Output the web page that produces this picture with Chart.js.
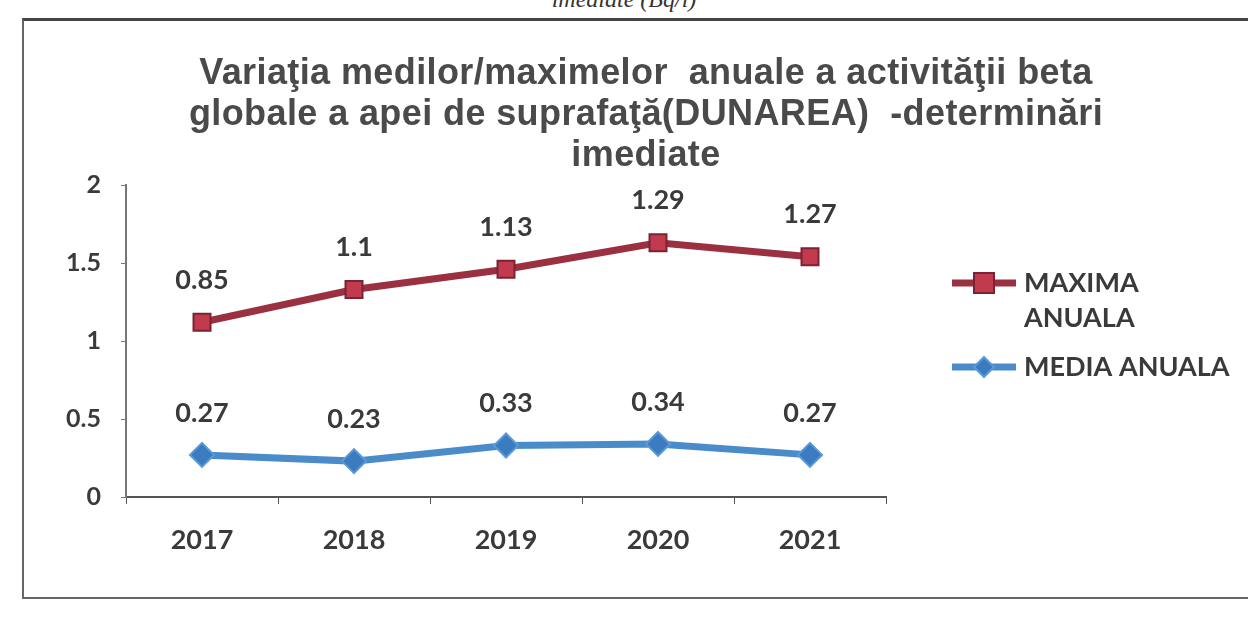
<!DOCTYPE html>
<html>
<head>
<meta charset="utf-8">
<script src="https://cdn.jsdelivr.net/npm/chart.js@4.4.0/dist/chart.umd.min.js"></script>
<style>
  html, body { margin: 0; padding: 0; background: #fff; }
  #wrap { position: relative; width: 1248px; height: 644px; overflow: hidden; }
  #caption {
    position: absolute; left: 0; width: 1248px; top: -14px; text-align: center;
    font: italic 24px "Liberation Serif", serif; color: #333;
  }
  #frame {
    position: absolute; left: 22px; top: 18px; width: 1230px; height: 581px;
    border: 2px solid #666; border-top: 3px solid #444; box-sizing: border-box;
  }
  canvas { position: absolute; left: 0; top: 0; }
</style>
</head>
<body>
<div id="wrap">
  <div id="caption">imediate (Bq/l)</div>
  <div id="frame"></div>
  <canvas id="myChart" width="1248" height="644"></canvas>
</div>
<script>
var years = ["2017", "2018", "2019", "2020", "2021"];
var mediaAnuala = [0.27, 0.23, 0.33, 0.34, 0.27];
var maximaAnuala = [0.85, 1.1, 1.13, 1.29, 1.27];
var yTicks = [0, 0.5, 1, 1.5, 2];

var titleLines = [
  "Variaţia medilor/maximelor  anuale a activităţii beta",
  "globale a apei de suprafaţă(DUNAREA)  -determinări",
  "imediate"
];

var textColor = "#3a3a3a";
var labelFont = "bold 27px Lato, 'Open Sans', sans-serif";

// title centred over the whole frame, not just the plot
var frameTitle = {
  id: "frameTitle",
  afterDraw: function (chart, args, opts) {
    var ctx = chart.ctx;
    ctx.save();
    ctx.font = "bold 36px 'Liberation Sans', Arial, sans-serif";
    ctx.letterSpacing = "0.4px";
    ctx.fillStyle = "#4a4a4a";
    ctx.textAlign = "center";
    ctx.textBaseline = "alphabetic";
    titleLines.forEach(function (line, i) {
      ctx.fillText(line, opts.x, opts.y + i * opts.lineHeight);
    });
    ctx.restore();
  }
};

// values written above each point (raw values, the lines are stacked)
var pointLabels = {
  id: "pointLabels",
  afterDatasetsDraw: function (chart) {
    var ctx = chart.ctx;
    ctx.save();
    ctx.font = labelFont;
    ctx.fillStyle = textColor;
    ctx.textAlign = "center";
    ctx.textBaseline = "middle";
    chart.data.datasets.forEach(function (ds, i) {
      var meta = chart.getDatasetMeta(i);
      meta.data.forEach(function (pt, j) {
        ctx.fillText(String(ds.data[j]), pt.x, pt.y - 42);
      });
    });
    ctx.restore();
  }
};

// legend on the right, with the wrapped label like the original
var sideLegend = {
  id: "sideLegend",
  afterDraw: function (chart, args, opts) {
    var ctx = chart.ctx;
    ctx.save();
    ctx.font = labelFont;
    ctx.textBaseline = "middle";
    var y = opts.y;
    var items = chart.data.datasets.slice().reverse();
    items.forEach(function (ds) {
      ctx.strokeStyle = ds.borderColor;
      ctx.lineWidth = 7;
      ctx.beginPath();
      ctx.moveTo(opts.x, y);
      ctx.lineTo(opts.x + 64, y);
      ctx.stroke();
      var cx = opts.x + 32;
      ctx.fillStyle = ds.pointBackgroundColor;
      ctx.strokeStyle = ds.pointBorderColor;
      ctx.lineWidth = 2;
      ctx.beginPath();
      if (ds.pointStyle === "rect") {
        ctx.rect(cx - 10, y - 10, 20, 20);
      } else {
        ctx.moveTo(cx, y - 10); ctx.lineTo(cx + 10, y);
        ctx.lineTo(cx, y + 10); ctx.lineTo(cx - 10, y);
        ctx.closePath();
      }
      ctx.fill();
      ctx.stroke();
      ctx.fillStyle = textColor;
      ds.legendLines.forEach(function (line, k) {
        ctx.fillText(line, opts.x + 72, y + k * 35);
      });
      y += ds.legendLines.length * 35 + 14;
    });
    ctx.restore();
  }
};

new Chart("myChart", {
  type: "line",
  data: {
    labels: years,
    datasets: [
      {
        label: "MEDIA ANUALA",
        legendLines: ["MEDIA ANUALA"],
        data: mediaAnuala,
        borderColor: "#4a8cc9",
        borderWidth: 7,
        pointStyle: "rectRot",
        pointRadius: 12,
        pointBackgroundColor: "#3b7bc0",
        pointBorderColor: "#5a9ad6",
        pointBorderWidth: 2,
        tension: 0
      },
      {
        label: "MAXIMA ANUALA",
        legendLines: ["MAXIMA", "ANUALA"],
        data: maximaAnuala,
        borderColor: "#9a3040",
        borderWidth: 7,
        pointStyle: "rect",
        pointRadius: 12,
        pointBackgroundColor: "#c23a4d",
        pointBorderColor: "#7a2433",
        pointBorderWidth: 2,
        tension: 0
      }
    ]
  },
  options: {
    responsive: false,
    animation: false,
    layout: { padding: { left: 60, right: 362, top: 185, bottom: 67 } },
    plugins: {
      legend: { display: false },
      tooltip: { enabled: false },
      title: { display: false },
      frameTitle: { x: 646, y: 84, lineHeight: 41 },
      sideLegend: { x: 952, y: 283 }
    },
    scales: {
      x: {
        offset: true,
        afterFit: function (s) { s.height = 80; },
        grid: { offset: true, drawOnChartArea: false, drawTicks: true, tickLength: 7, color: "#555" },
        border: { color: "#555", width: 2 },
        ticks: { color: textColor, padding: 20, font: { family: "Lato, sans-serif", size: 27, weight: "bold" } }
      },
      y: {
        stacked: true,
        min: 0,
        max: 2,
        afterFit: function (s) { s.width = 66; },
        afterBuildTicks: function (s) { s.ticks = yTicks.map(function (v) { return { value: v }; }); },
        grid: { drawOnChartArea: false, drawTicks: true, tickLength: 5, color: "#777" },
        border: { color: "#777", width: 2 },
        ticks: {
          color: textColor, padding: 20,
          font: { family: "Lato, sans-serif", size: 25, weight: "bold" },
          callback: function (v) { return String(v); }
        }
      }
    }
  },
  plugins: [frameTitle, pointLabels, sideLegend]
});
</script>
</body>
</html>
